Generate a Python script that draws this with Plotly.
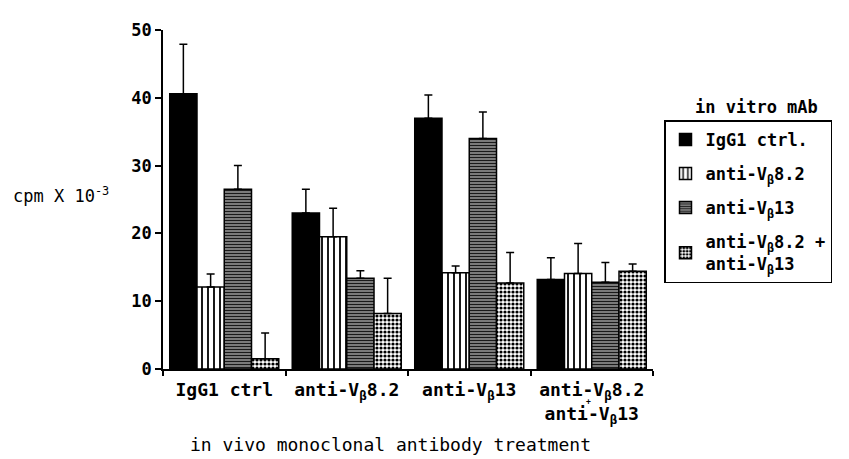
import plotly.graph_objects as go

categories = ["IgG1 ctrl", "anti-V<sub>β</sub>8.2", "anti-V<sub>β</sub>13",
              "anti-V<sub>β</sub>8.2<br>anti-V<sub>β</sub>13"]
series_names = ["IgG1 ctrl.", "anti-V<sub>β</sub>8.2", "anti-V<sub>β</sub>13",
                "anti-V<sub>β</sub>8.2 +<br>anti-V<sub>β</sub>13"]
igg1_vals = [40.6, 23.0, 37.0, 13.2]
igg1_err = [7.3, 3.5, 3.4, 3.2]
vb82_vals = [12.1, 19.5, 14.2, 14.1]
vb82_err = [1.9, 4.2, 1.0, 4.4]
vb13_vals = [26.5, 13.4, 34.0, 12.8]
vb13_err = [3.5, 1.1, 3.9, 2.9]
combo_vals = [1.5, 8.2, 12.7, 14.4]
combo_err = [3.8, 5.2, 4.5, 1.1]
y_ticks = [0, 10, 20, 30, 40, 50]

FONT = "DejaVu Sans Mono"

# reference plot area in page pixels (page has an 8px body margin)
PX_L, PX_R, PX_T, PX_B = 163, 653, 20, 369


def px(xp, yp):
    return ((xp - PX_L) / (PX_R - PX_L), (PX_B - yp) / (PX_B - PX_T))


series = [igg1_vals, vb82_vals, vb13_vals, combo_vals]
errors = [igg1_err, vb82_err, vb13_err, combo_err]
patterns = [
    dict(shape=""),
    dict(shape="|", fgcolor="black", bgcolor="white", size=6, solidity=0.3, fillmode="replace"),
    dict(shape="-", fgcolor="#1a1a1a", bgcolor="#999999", size=3, solidity=0.5, fillmode="replace"),
    dict(shape=".", fgcolor="black", bgcolor="white", size=4, solidity=0.5, fillmode="replace"),
]
colors = ["black", "white", "white", "white"]

fig = go.Figure()
for i in range(4):
    fig.add_trace(go.Bar(
        x=categories, y=series[i], name=series_names[i],
        legendgroup=str(i),
        marker=dict(color=colors[i], line=dict(color="black", width=1.5),
                    pattern=patterns[i]),
        error_y=dict(type="data", symmetric=False, array=errors[i],
                     arrayminus=[0] * len(errors[i]), color="black",
                     thickness=1.5, width=4),
    ))

W, H = 841, 451
fig.update_layout(
    width=W, height=H,
    margin=dict(l=PX_L - 8, r=W - (PX_R - 8), t=PX_T - 8, b=H - (PX_B - 8)),
    paper_bgcolor="white", plot_bgcolor="white",
    barmode="group", bargap=0.11, bargroupgap=0.0,
    font=dict(family=FONT, color="black"),
    xaxis=dict(showline=True, linecolor="black", linewidth=1.5,
               ticks="outside", tickson="boundaries", ticklen=5,
               tickcolor="black", tickwidth=1.5, ticklabelstandoff=4,
               tickfont=dict(family=FONT, size=18, weight="bold"),
               showgrid=False),
    yaxis=dict(range=[0, 50], tickvals=y_ticks, showline=True,
               linecolor="black", linewidth=1.5, ticks="outside",
               ticklen=6, tickcolor="black", tickwidth=1.5,
               tickfont=dict(family=FONT, size=17, weight="bold"),
               showgrid=False, zeroline=False),
    legend=dict(x=px(664, 0)[0], y=px(0, 113)[1], xanchor="left", yanchor="top",
                bordercolor="black", borderwidth=1.5,
                font=dict(family=FONT, size=17, weight="bold"),
                traceorder="grouped", tracegroupgap=9,
                itemwidth=30),
    showlegend=True,
)

ax, ay = px(756, 99)
fig.add_annotation(text="in vitro mAb", xref="paper", yref="paper",
                   x=ax, y=ay, xanchor="center", yanchor="middle",
                   showarrow=False,
                   font=dict(family=FONT, size=17, weight="bold"))
ax, ay = px(390, 447)
fig.add_annotation(text="in vivo monoclonal antibody treatment",
                   xref="paper", yref="paper", x=ax, y=ay,
                   xanchor="center", yanchor="middle",
                   showarrow=False, font=dict(family=FONT, size=18))
ax, ay = px(11, 190)
fig.add_annotation(text="cpm X 10<sup>-3</sup>", xref="paper", yref="paper",
                   x=ax, y=ay, xanchor="left",
                   yanchor="middle", showarrow=False,
                   font=dict(family=FONT, size=17))
ax, ay = px(588, 402)
fig.add_annotation(text="+", xref="paper", yref="paper",
                   x=ax, y=ay, xanchor="center", yanchor="middle", showarrow=False,
                   font=dict(family=FONT, size=8, weight="bold"))

fig.write_html("out.html")
